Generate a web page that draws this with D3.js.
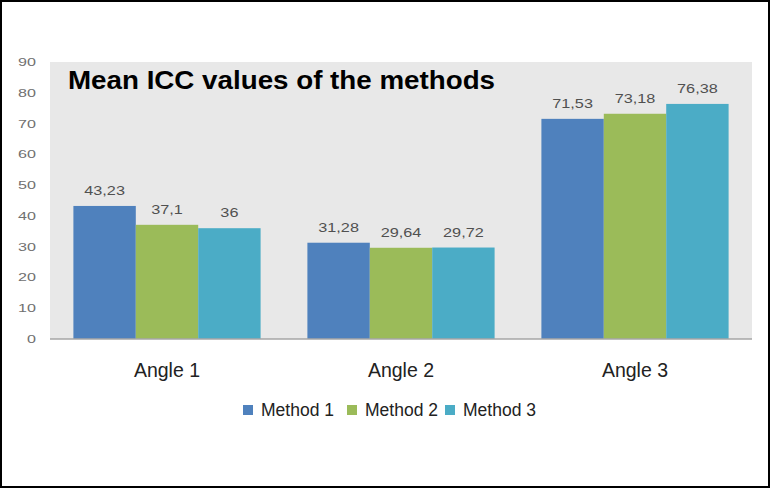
<!DOCTYPE html>
<html>
<head>
<meta charset="utf-8">
<script src="https://cdn.jsdelivr.net/npm/d3@7"></script>
<style>
  body { margin: 0; background: #fff; }
  svg { display: block; }
</style>
</head>
<body>
<div id="chart"></div>
<script>
const categories = ['Angle 1', 'Angle 2', 'Angle 3'];
const methods = ['Method 1', 'Method 2', 'Method 3'];
const method1 = [43.23, 31.28, 71.53];
const method2 = [37.1, 29.64, 73.18];
const method3 = [36, 29.72, 76.38];
const yTicks = [0, 10, 20, 30, 40, 50, 60, 70, 80, 90];
const colors = ['#4F81BD', '#9BBB59', '#4BACC6'];

const width = 771, height = 489;
const plot = { left: 50, right: 752, top: 62, bottom: 339 };
const font = 'Liberation Sans, Arial, sans-serif';

const series = [method1, method2, method3];

const svg = d3.select('#chart')
  .append('svg')
  .attr('width', width)
  .attr('height', height);

// outer frame
svg.append('rect')
  .attr('x', 1).attr('y', 1)
  .attr('width', width - 3).attr('height', height - 3)
  .attr('fill', '#fff')
  .attr('stroke', '#000')
  .attr('stroke-width', 2);

// plot background
svg.append('rect')
  .attr('x', plot.left).attr('y', plot.top)
  .attr('width', plot.right - plot.left)
  .attr('height', plot.bottom - plot.top)
  .attr('fill', '#e8e8e8');

const x0 = d3.scaleBand()
  .domain(categories)
  .range([plot.left, plot.right])
  .paddingInner(0.2)
  .paddingOuter(0.1);

const x1 = d3.scaleBand()
  .domain(methods)
  .range([0, x0.bandwidth()]);

const y = d3.scaleLinear()
  .domain([0, 90])
  .range([plot.bottom, plot.top]);

// the source picture is stretched sideways, so small texts are widened a bit
// y tick labels
svg.append('g')
  .selectAll('text')
  .data(yTicks)
  .enter()
  .append('text')
  .attr('transform', d => `translate(36,${y(d)}) scale(1.4,1)`)
  .attr('dy', '0.35em')
  .attr('text-anchor', 'end')
  .attr('font-family', font)
  .attr('font-size', 11.5)
  .attr('fill', '#707070')
  .text(d => d);

const fmt = v => String(v).replace('.', ',');

const groups = svg.selectAll('g.group')
  .data(categories)
  .enter()
  .append('g')
  .attr('class', 'group')
  .attr('transform', d => `translate(${x0(d)},0)`);

groups.selectAll('rect')
  .data((d, i) => methods.map((m, j) => ({ m, v: series[j][i], c: colors[j] })))
  .enter()
  .append('rect')
  .attr('x', d => x1(d.m))
  .attr('y', d => y(d.v))
  .attr('width', x1.bandwidth())
  .attr('height', d => y(0) - y(d.v))
  .attr('fill', d => d.c);

groups.selectAll('text.val')
  .data((d, i) => methods.map((m, j) => ({ m, v: series[j][i] })))
  .enter()
  .append('text')
  .attr('class', 'val')
  .attr('transform', d => `translate(${x1(d.m) + x1.bandwidth() / 2},${y(d.v) - 11}) scale(1.3,1)`)
  .attr('text-anchor', 'middle')
  .attr('font-family', font)
  .attr('font-size', 12.5)
  .attr('fill', '#505050')
  .text(d => fmt(d.v));

// baseline
svg.append('line')
  .attr('x1', plot.left).attr('x2', plot.right)
  .attr('y1', y(0)).attr('y2', y(0))
  .attr('stroke', '#a6a6a6')
  .attr('stroke-width', 1.5);

// category labels
svg.append('g')
  .selectAll('text')
  .data(categories)
  .enter()
  .append('text')
  .attr('x', d => x0(d) + x0.bandwidth() / 2)
  .attr('y', 377)
  .attr('text-anchor', 'middle')
  .attr('font-family', font)
  .attr('font-size', 19.5)
  .attr('fill', '#222')
  .text(d => d);

// title
svg.append('text')
  .attr('transform', 'translate(68,89) scale(1.11,1)')
  .attr('font-family', font)
  .attr('font-weight', 'bold')
  .attr('font-size', 25)
  .attr('fill', '#000')
  .text('Mean ICC values of the methods');

// legend
const legendX = [243, 347, 445];
const legend = svg.append('g')
  .selectAll('g')
  .data(methods)
  .enter()
  .append('g')
  .attr('transform', (d, i) => `translate(${legendX[i]},410)`);

legend.append('rect')
  .attr('x', 0).attr('y', -5)
  .attr('width', 10).attr('height', 10)
  .attr('fill', (d, i) => colors[i]);

legend.append('text')
  .attr('x', 18)
  .attr('y', 0)
  .attr('dy', '0.35em')
  .attr('font-family', font)
  .attr('font-size', 17.5)
  .attr('fill', '#222')
  .text(d => d);
</script>
</body>
</html>
